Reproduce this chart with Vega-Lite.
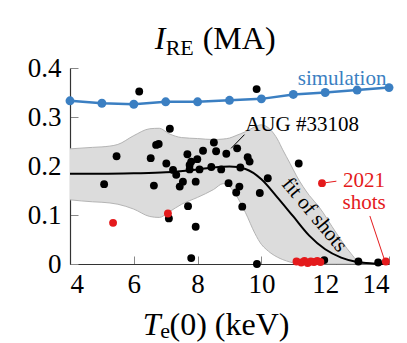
{
  "$schema": "https://vega.github.io/schema/vega-lite/v6.json",
  "width": 319,
  "height": 196,
  "autosize": {"type": "none"},
  "padding": {"left": 70, "top": 68, "right": 18, "bottom": 79},
  "config": {
    "view": {"stroke": null},
    "font": "serif",
    "axis": {
      "domainColor": "#333333",
      "domainWidth": 1.2,
      "tickColor": "#888888",
      "tickWidth": 1,
      "tickSize": -8,
      "labelFont": "serif",
      "labelFontSize": 27,
      "labelColor": "#000000",
      "grid": false,
      "title": null
    }
  },
  "datasets": {
    "band": [
      {"x": 4, "lo": 0.131, "hi": 0.235},
      {"x": 4.7, "lo": 0.127, "hi": 0.238},
      {"x": 5, "lo": 0.126, "hi": 0.239},
      {"x": 5.5, "lo": 0.122, "hi": 0.244},
      {"x": 6, "lo": 0.112, "hi": 0.262},
      {"x": 6.5, "lo": 0.097, "hi": 0.276},
      {"x": 6.8, "lo": 0.095, "hi": 0.277},
      {"x": 7.1, "lo": 0.106, "hi": 0.266},
      {"x": 7.5, "lo": 0.122, "hi": 0.258},
      {"x": 8, "lo": 0.136, "hi": 0.256},
      {"x": 8.5, "lo": 0.152, "hi": 0.254},
      {"x": 8.8, "lo": 0.164, "hi": 0.255},
      {"x": 9, "lo": 0.158, "hi": 0.257},
      {"x": 9.2, "lo": 0.141, "hi": 0.262},
      {"x": 9.5, "lo": 0.105, "hi": 0.27},
      {"x": 9.8, "lo": 0.062, "hi": 0.28},
      {"x": 10, "lo": 0.04, "hi": 0.284},
      {"x": 10.15, "lo": 0.03, "hi": 0.281},
      {"x": 10.3, "lo": 0.022, "hi": 0.273},
      {"x": 10.5, "lo": 0.014, "hi": 0.255},
      {"x": 10.67, "lo": 0.009, "hi": 0.233},
      {"x": 10.9, "lo": 0.004, "hi": 0.205},
      {"x": 11.1, "lo": 0.001, "hi": 0.18},
      {"x": 11.5, "lo": 0, "hi": 0.14},
      {"x": 11.8, "lo": 0, "hi": 0.117},
      {"x": 12.35, "lo": 0, "hi": 0.063},
      {"x": 12.8, "lo": 0, "hi": 0.022},
      {"x": 13, "lo": 0, "hi": 0.008},
      {"x": 13.5, "lo": 0, "hi": 0.001},
      {"x": 14, "lo": 0, "hi": 0}
    ],
    "fit": [
      {"x": 4, "y": 0.184},
      {"x": 5, "y": 0.184},
      {"x": 6, "y": 0.185},
      {"x": 7, "y": 0.187},
      {"x": 8, "y": 0.193},
      {"x": 8.5, "y": 0.197},
      {"x": 9, "y": 0.199},
      {"x": 9.5, "y": 0.194},
      {"x": 10, "y": 0.173},
      {"x": 10.5, "y": 0.136},
      {"x": 11, "y": 0.097},
      {"x": 11.5, "y": 0.058},
      {"x": 12, "y": 0.03},
      {"x": 12.5, "y": 0.013},
      {"x": 13, "y": 0.004},
      {"x": 13.5, "y": 0.001},
      {"x": 14, "y": 0}
    ],
    "sim": [
      {"x": 4, "y": 0.333},
      {"x": 5, "y": 0.328},
      {"x": 6, "y": 0.326},
      {"x": 7, "y": 0.331},
      {"x": 8, "y": 0.331},
      {"x": 9, "y": 0.334},
      {"x": 10, "y": 0.337},
      {"x": 11, "y": 0.346},
      {"x": 12, "y": 0.35},
      {"x": 13, "y": 0.355},
      {"x": 14, "y": 0.36}
    ],
    "shots": [
      {"x": 5.07, "y": 0.163},
      {"x": 5.46, "y": 0.22},
      {"x": 6.17, "y": 0.352},
      {"x": 6.53, "y": 0.216},
      {"x": 6.63, "y": 0.16},
      {"x": 6.7, "y": 0.243},
      {"x": 6.78, "y": 0.245},
      {"x": 7.02, "y": 0.205},
      {"x": 7.1, "y": 0.093},
      {"x": 7.13, "y": 0.276},
      {"x": 7.23, "y": 0.192},
      {"x": 7.33, "y": 0.182},
      {"x": 7.44, "y": 0.158},
      {"x": 7.54, "y": 0.168},
      {"x": 7.68, "y": 0.224},
      {"x": 7.7, "y": 0.118},
      {"x": 7.75, "y": 0.202},
      {"x": 7.75, "y": 0.193},
      {"x": 7.8, "y": 0.012},
      {"x": 7.8, "y": 0.209},
      {"x": 7.94, "y": 0.168},
      {"x": 7.94, "y": 0.076},
      {"x": 7.99, "y": 0.214},
      {"x": 8.06, "y": 0.193},
      {"x": 8.17, "y": 0.231},
      {"x": 8.43, "y": 0.198},
      {"x": 8.51, "y": 0.248},
      {"x": 8.58, "y": 0.23},
      {"x": 8.74, "y": 0.193},
      {"x": 8.9, "y": 0.225},
      {"x": 8.97, "y": 0.165},
      {"x": 9.24, "y": 0.236},
      {"x": 9.21, "y": 0.146},
      {"x": 9.31, "y": 0.158},
      {"x": 9.34, "y": 0.197},
      {"x": 9.4, "y": 0.117},
      {"x": 9.57, "y": 0.218},
      {"x": 9.63, "y": 0.209},
      {"x": 9.85, "y": 0.357},
      {"x": 9.86, "y": 0.0},
      {"x": 9.95, "y": 0.145},
      {"x": 10.2, "y": 0.175},
      {"x": 11.17, "y": 0.205},
      {"x": 11.97, "y": 0.008},
      {"x": 13.04, "y": 0.005},
      {"x": 13.66, "y": 0.003}
    ],
    "red": [
      {"x": 5.35, "y": 0.084},
      {"x": 7.07, "y": 0.103},
      {"x": 11.9, "y": 0.165},
      {"x": 11.1, "y": 0.005},
      {"x": 11.25, "y": 0.003},
      {"x": 11.35, "y": 0.006},
      {"x": 11.45, "y": 0.002},
      {"x": 11.55, "y": 0.005},
      {"x": 11.65, "y": 0.004},
      {"x": 11.75, "y": 0.006},
      {"x": 11.85, "y": 0.004},
      {"x": 13.9, "y": 0.005}
    ]
  },
  "layer": [
    {
      "data": {"name": "band"},
      "mark": {"type": "area", "color": "#dcdcdc", "interpolate": "monotone"},
      "encoding": {
        "x": {"field": "x", "type": "quantitative", "scale": {"domain": [4, 14], "nice": false, "zero": false},
              "axis": {"values": [4, 6, 8, 10, 12, 14], "labelPadding": 15, "labelFont": "serif", "labelFontSize": 27}},
        "y": {"field": "lo", "type": "quantitative", "scale": {"domain": [0, 0.4], "nice": false},
              "axis": {"values": [0, 0.1, 0.2, 0.3, 0.4], "labelPadding": 17, "labelFont": "serif", "labelFontSize": 27, "labelExpr": "datum.value == 0 ? '0' : format(datum.value, '.1f')"}},
        "y2": {"field": "hi"}
      }
    },
    {
      "data": {"name": "band"},
      "mark": {"type": "line", "color": "#b4b4b4", "strokeWidth": 1, "interpolate": "monotone"},
      "encoding": {
        "x": {"field": "x", "type": "quantitative", "scale": {"domain": [4, 14], "nice": false, "zero": false}},
        "y": {"field": "hi", "type": "quantitative", "scale": {"domain": [0, 0.4], "nice": false}}
      }
    },
    {
      "data": {"name": "band"},
      "mark": {"type": "line", "color": "#b4b4b4", "strokeWidth": 1, "interpolate": "monotone"},
      "encoding": {
        "x": {"field": "x", "type": "quantitative", "scale": {"domain": [4, 14], "nice": false, "zero": false}},
        "y": {"field": "lo", "type": "quantitative", "scale": {"domain": [0, 0.4], "nice": false}}
      }
    },
    {
      "data": {"name": "fit"},
      "mark": {"type": "line", "color": "#000000", "strokeWidth": 2, "interpolate": "monotone"},
      "encoding": {
        "x": {"field": "x", "type": "quantitative", "scale": {"domain": [4, 14], "nice": false, "zero": false}},
        "y": {"field": "y", "type": "quantitative", "scale": {"domain": [0, 0.4], "nice": false}}
      }
    },
    {
      "data": {"name": "sim"},
      "mark": {"type": "line", "color": "#3b7fc2", "strokeWidth": 2.5},
      "encoding": {
        "x": {"field": "x", "type": "quantitative", "scale": {"domain": [4, 14], "nice": false, "zero": false}},
        "y": {"field": "y", "type": "quantitative", "scale": {"domain": [0, 0.4], "nice": false}}
      }
    },
    {
      "data": {"name": "sim"},
      "mark": {"type": "circle", "color": "#3b7fc2", "size": 80, "opacity": 1},
      "encoding": {
        "x": {"field": "x", "type": "quantitative", "scale": {"domain": [4, 14], "nice": false, "zero": false}},
        "y": {"field": "y", "type": "quantitative", "scale": {"domain": [0, 0.4], "nice": false}}
      }
    },
    {
      "data": {"name": "shots"},
      "mark": {"type": "circle", "color": "#000000", "size": 62, "opacity": 1},
      "encoding": {
        "x": {"field": "x", "type": "quantitative", "scale": {"domain": [4, 14], "nice": false, "zero": false}},
        "y": {"field": "y", "type": "quantitative", "scale": {"domain": [0, 0.4], "nice": false}}
      }
    },
    {
      "data": {"name": "red"},
      "mark": {"type": "circle", "color": "#e41a1c", "size": 62, "opacity": 1},
      "encoding": {
        "x": {"field": "x", "type": "quantitative", "scale": {"domain": [4, 14], "nice": false, "zero": false}},
        "y": {"field": "y", "type": "quantitative", "scale": {"domain": [0, 0.4], "nice": false}}
      }
    },
    {
      "data": {"values": [{"x": 9.05, "y": 0.236, "x2": 9.47, "y2": 0.264}]},
      "mark": {"type": "rule", "color": "#000000", "strokeWidth": 1},
      "encoding": {
        "x": {"field": "x", "type": "quantitative", "scale": {"domain": [4, 14], "nice": false, "zero": false}},
        "y": {"field": "y", "type": "quantitative", "scale": {"domain": [0, 0.4], "nice": false}},
        "x2": {"field": "x2"},
        "y2": {"field": "y2"}
      }
    },
    {
      "data": {"values": [
        {"x": 12.02, "y": 0.166, "x2": 12.35, "y2": 0.169},
        {"x": 13.4, "y": 0.098, "x2": 13.84, "y2": 0.012}
      ]},
      "mark": {"type": "rule", "color": "#e41a1c", "strokeWidth": 1},
      "encoding": {
        "x": {"field": "x", "type": "quantitative", "scale": {"domain": [4, 14], "nice": false, "zero": false}},
        "y": {"field": "y", "type": "quantitative", "scale": {"domain": [0, 0.4], "nice": false}},
        "x2": {"field": "x2"},
        "y2": {"field": "y2"}
      }
    },
    {
      "data": {"values": [{"x": 12.53, "y": 0.365, "label": "simulation"}]},
      "mark": {"type": "text", "color": "#3b7fc2", "fontSize": 21, "font": "Liberation Serif", "align": "center", "baseline": "alphabetic"},
      "encoding": {
        "x": {"field": "x", "type": "quantitative", "scale": {"domain": [4, 14], "nice": false, "zero": false}},
        "y": {"field": "y", "type": "quantitative", "scale": {"domain": [0, 0.4], "nice": false}},
        "text": {"field": "label"}
      }
    },
    {
      "data": {"values": [{"x": 9.49, "y": 0.272, "label": "AUG #33108"}]},
      "mark": {"type": "text", "color": "#000000", "fontSize": 21, "font": "Liberation Serif", "align": "left", "baseline": "alphabetic"},
      "encoding": {
        "x": {"field": "x", "type": "quantitative", "scale": {"domain": [4, 14], "nice": false, "zero": false}},
        "y": {"field": "y", "type": "quantitative", "scale": {"domain": [0, 0.4], "nice": false}},
        "text": {"field": "label"}
      }
    },
    {
      "data": {"values": [{"x": 11.66, "y": 0.1, "label": "fit of shots"}]},
      "mark": {"type": "text", "color": "#000000", "fontSize": 21, "font": "Liberation Serif", "align": "center", "baseline": "middle", "angle": 50},
      "encoding": {
        "x": {"field": "x", "type": "quantitative", "scale": {"domain": [4, 14], "nice": false, "zero": false}},
        "y": {"field": "y", "type": "quantitative", "scale": {"domain": [0, 0.4], "nice": false}},
        "text": {"field": "label"}
      }
    },
    {
      "data": {"values": [{"x": 13.22, "y": 0.157, "label": "2021\nshots"}]},
      "mark": {"type": "text", "color": "#e41a1c", "fontSize": 21, "font": "Liberation Serif", "align": "center", "baseline": "alphabetic", "lineBreak": "\n", "lineHeight": 22},
      "encoding": {
        "x": {"field": "x", "type": "quantitative", "scale": {"domain": [4, 14], "nice": false, "zero": false}},
        "y": {"field": "y", "type": "quantitative", "scale": {"domain": [0, 0.4], "nice": false}},
        "text": {"field": "label"}
      }
    },
    {
      "data": {"values": [{"x": 6.66, "y": 0.439, "label": "I"}, {"x": 6.28, "y": -0.145, "label": "T"}]},
      "mark": {"type": "text", "color": "#000000", "fontSize": 32, "font": "Liberation Serif", "fontStyle": "italic", "align": "left", "baseline": "alphabetic"},
      "encoding": {
        "x": {"field": "x", "type": "quantitative", "scale": {"domain": [4, 14], "nice": false, "zero": false}},
        "y": {"field": "y", "type": "quantitative", "scale": {"domain": [0, 0.4], "nice": false}},
        "text": {"field": "label"}
      }
    },
    {
      "data": {"values": [{"x": 7.0, "y": 0.427, "label": "RE"}, {"x": 6.83, "y": -0.151, "label": "e"}]},
      "mark": {"type": "text", "color": "#000000", "fontSize": 22, "font": "Liberation Serif", "align": "left", "baseline": "alphabetic"},
      "encoding": {
        "x": {"field": "x", "type": "quantitative", "scale": {"domain": [4, 14], "nice": false, "zero": false}},
        "y": {"field": "y", "type": "quantitative", "scale": {"domain": [0, 0.4], "nice": false}},
        "text": {"field": "label"}
      }
    },
    {
      "data": {"values": [{"x": 8.16, "y": 0.439, "label": "(MA)"}, {"x": 7.12, "y": -0.145, "label": "(0) (keV)"}]},
      "mark": {"type": "text", "color": "#000000", "fontSize": 32, "font": "Liberation Serif", "align": "left", "baseline": "alphabetic"},
      "encoding": {
        "x": {"field": "x", "type": "quantitative", "scale": {"domain": [4, 14], "nice": false, "zero": false}},
        "y": {"field": "y", "type": "quantitative", "scale": {"domain": [0, 0.4], "nice": false}},
        "text": {"field": "label"}
      }
    }
  ]
}
